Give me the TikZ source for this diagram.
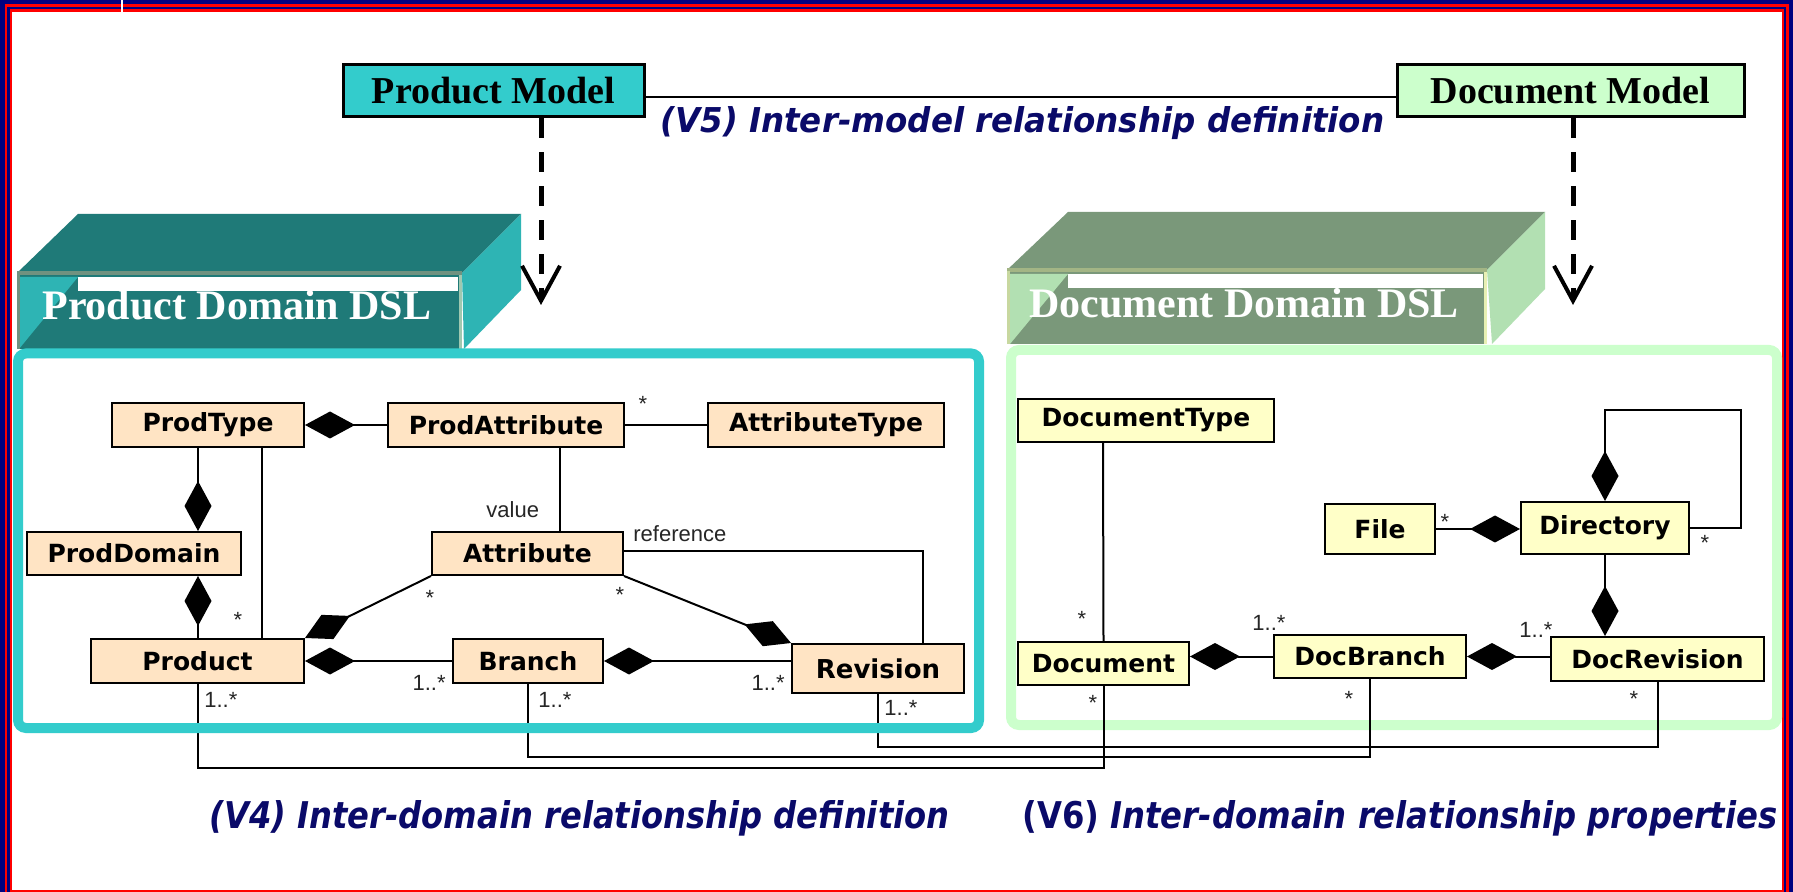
\documentclass[tikz,border=0pt]{standalone}
\usepackage{fontspec}
\usepackage{graphicx}
\usetikzlibrary{arrows.meta}

\newfontfamily\serifface{Liberation Serif}
\newfontfamily\clsface{DejaVu Sans}
\newfontfamily\lblface{Liberation Sans}
\newfontfamily\handface{DejaVu Sans}[BoldFont={DejaVu Sans Bold},ItalicFont={DejaVu Sans Oblique},BoldItalicFont={DejaVu Sans Bold Oblique}]

\definecolor{framenavy}{RGB}{0,0,128}
\definecolor{framered}{RGB}{255,0,0}
\definecolor{modelcyan}{RGB}{51,204,204}
\definecolor{modelgreen}{RGB}{204,255,204}
\definecolor{prodfill}{RGB}{255,228,196}
\definecolor{docfill}{RGB}{255,255,200}
\definecolor{tealdark}{RGB}{31,122,120}
\definecolor{teallight}{RGB}{46,180,180}
\definecolor{tealedge}{RGB}{112,146,128}
\definecolor{tealedgeR}{RGB}{160,200,176}
\definecolor{greendark}{RGB}{122,152,122}
\definecolor{greenlight}{RGB}{178,224,178}
\definecolor{greenedge}{RGB}{163,181,133}
\definecolor{greenedgeL}{RGB}{200,216,160}
\definecolor{greenedgeR}{RGB}{232,240,180}
\definecolor{handblue}{RGB}{10,10,105}

\tikzset{
  modelbox/.style={draw=black, line width=1.5pt, inner sep=0pt, minimum height=26pt,
    font=\serifface\bfseries\fontsize{19pt}{22pt}\selectfont},
  dsltitle/.style={text=white, inner sep=0pt, font=\serifface\bfseries\fontsize{21pt}{24pt}\selectfont},
  pcls/.style={draw=black, line width=1pt, fill=prodfill, inner sep=0pt, minimum height=22pt,
    font=\clsface\bfseries\fontsize{12.5pt}{14pt}\selectfont},
  dcls/.style={pcls, fill=docfill},
  assoc/.style={draw=black, line width=1pt},
  comp start/.style={{Diamond[length=25pt,width=13.5pt]}-},
  comp end/.style={-{Diamond[length=25pt,width=13.5pt]}},
  lbl/.style={inner sep=0pt, text=black!85, font=\lblface\fontsize{11pt}{13pt}\selectfont},
  modelarrow/.style={line width=2.5pt, dash pattern=on 10pt off 7pt,
    -{Straight Barb[length=17.5pt,width=19pt,line width=2pt]}},
  vtext/.style={inner sep=0pt, text=handblue, font=\handface\bfseries}
}

\begin{document}
\begin{tikzpicture}[x=0.5pt, y=-0.5pt]
\useasboundingbox (0,0) rectangle (1793,892);

% page frame
\fill[framenavy] (0,0) rectangle (1793,892);
\fill[framered] (4.5,4.5) rectangle (1788.5,892);
\fill[framenavy] (7,7) rectangle (1786,892);
\fill[framered] (9.5,9.5) rectangle (1783.5,892);
\fill[white] (12,12) rectangle (1782,890);
\draw[white, line width=1pt] (122,0) -- (122,12);

% model boxes and their relationship
\node[modelbox, fill=modelcyan, minimum width=150.5pt] (pmodel) at (493.5,91) {Product Model};
\node[modelbox, fill=modelgreen, minimum width=173.5pt] (dmodel) at (1570.5,91) {Document Model};
\draw[line width=1.25pt] ([yshift=-3pt]pmodel.east) -- ([yshift=-3pt]dmodel.west);
\node[vtext, anchor=base west] (v5) at (660,133)
  {\resizebox{362pt}{13pt}{\itshape (V5) Inter-model relationship definition}};

% product domain DSL block
\fill[tealdark] (17,273) -- (462,273) -- (521,214) -- (78,214) -- cycle;
\fill[teallight] (462,273) -- (521,214) -- (521,290) -- (464,349) -- cycle;
\fill[tealdark] (17,273) rectangle (462,349);
\fill[white] (78,277) rectangle (458,291);
\fill[teallight] (17,277) -- (78,277) -- (19,349) -- (17,349) -- cycle;
\draw[tealedge, line width=2pt] (17,273) -- (462,273);
\draw[tealedge, line width=1.5pt] (18,273) -- (18,349);
\draw[tealedgeR, line width=1.5pt] (460,275) -- (460,349);
\node[dsltitle, anchor=base west] (pdsltitle) at (42,320) {Product Domain DSL};

% document domain DSL block
\fill[greendark] (1007,270) -- (1487,270) -- (1545,212) -- (1068,212) -- cycle;
\fill[greenlight] (1487,270) -- (1545,212) -- (1545,289) -- (1492,344) -- cycle;
\fill[greendark] (1007,270) rectangle (1487,344);
\fill[white] (1068,274) rectangle (1483,288);
\fill[greenlight] (1007,274) -- (1068,274) -- (1010,344) -- (1007,344) -- cycle;
\draw[greenedge, line width=2pt] (1007,270) -- (1487,270);
\draw[greenedgeL, line width=1.5pt] (1008,271) -- (1008,344);
\draw[greenedgeR, line width=1.5pt] (1485,272) -- (1485,344);
\node[dsltitle, anchor=base west] (ddsltitle) at (1029,318) {Document Domain DSL};

% models mapped onto the DSLs
\coordinate (pdsl) at (541,305);
\coordinate (ddsl) at (1573,305);
\draw[modelarrow] ([xshift=23.75pt]pmodel.south) -- (pdsl);
\draw[modelarrow] ([xshift=1.25pt]dmodel.south) -- (ddsl);

% document domain frame
\draw[modelgreen, line width=5pt, rounded corners=4pt] (1011,350) rectangle (1777,725);

% product domain classes
\node[pcls, minimum width=96pt] (prodtype) at (208,425) {ProdType};
\node[pcls, minimum width=118pt] (prodattr) at (506,425) {ProdAttribute};
\node[pcls, minimum width=118pt] (attrtype) at (826,425) {AttributeType};
\node[pcls, minimum width=107pt, minimum height=21.5pt] (proddomain) at (134,553.5) {ProdDomain};
\node[pcls, minimum width=95.5pt, minimum height=21.5pt] (attribute) at (527.5,553.5) {Attribute};
\node[pcls, minimum width=106.5pt] (product) at (197.5,661) {Product};
\node[pcls, minimum width=75pt] (branch) at (528,661) {Branch};
\node[pcls, minimum width=86pt, minimum height=24.5pt, font=\clsface\bfseries\fontsize{13pt}{15pt}\selectfont] (revision) at (878,668.5) {Revision};

% document domain classes
\node[dcls, minimum width=128pt, minimum height=21.5pt] (doctype) at (1146,420.5) {DocumentType};
\node[dcls, minimum width=55pt, minimum height=25pt] (file) at (1380,529) {File};
\node[dcls, minimum width=84pt, minimum height=26pt] (directory) at (1605,528) {Directory};
\node[dcls, minimum width=85.5pt, minimum height=21.5pt] (document) at (1103.5,663.5) {Document};
\node[dcls, minimum width=96pt, minimum height=21.5pt] (docbranch) at (1370,656.5) {DocBranch};
\node[dcls, minimum width=106.5pt] (docrevision) at (1657.5,659) {DocRevision};

% product domain associations
\draw[assoc, comp start] (prodtype.east) -- (prodattr.west);
\draw[assoc] (prodattr.east) -- (attrtype.west);
\draw[assoc, comp end] ([xshift=-5pt]prodtype.south) -- ([xshift=32pt]proddomain.north);
\draw[assoc, comp start] ([xshift=32pt]proddomain.south) -- ([xshift=0.25pt]product.north);
\draw[assoc] ([xshift=27pt]prodtype.south) -- ([xshift=32.25pt]product.north);
\draw[assoc, comp start] (product.east) -- (branch.west);
\draw[assoc, comp end] (attribute.south west) -- (product.north east);
\draw[assoc, comp end] (attribute.south east) -- (revision.north west);
\draw[assoc] ([xshift=27pt]prodattr.south) -- ([xshift=16.25pt]attribute.north);
\draw[assoc] ([yshift=1pt]attribute.east) -| ([xshift=22.5pt]revision.north);
\draw[assoc, comp start] (branch.east) -- (branch.east -| revision.west);

% document domain associations
\draw[assoc] ([xshift=-21.5pt]doctype.south) -- (document.north);
\draw[assoc, comp start] (document.east |- docbranch.west) -- (docbranch.west);
\draw[assoc, comp start] (docbranch.east) -- (docbranch.east -| docrevision.west);
\draw[assoc, comp end] (file.east) -- (file.east -| directory.west);
\draw[assoc, comp end] (directory.south) -- (directory.south |- docrevision.north);
\coordinate (loop) at (1741,410);
\draw[assoc, comp end] (directory.east) -| (loop) -| (directory.north);

% inter-domain links
\coordinate (busP) at (0,768);
\coordinate (busB) at (0,757);
\coordinate (busR) at (0,747);
\draw[assoc] (product.south) |- (busP -| document.south) -- (document.south);
\draw[assoc] (branch.south) |- (busB -| docbranch.south) -- (docbranch.south);
\draw[assoc] (revision.south) |- (busR -| docrevision.south) -- (docrevision.south);

% product domain frame
\draw[modelcyan, line width=5pt, rounded corners=4pt] (18,353.5) rectangle (979,728);

% role names and multiplicities
\node[lbl, anchor=base] (mPA) at (643,412) {*};
\node[lbl, anchor=base] (mAsw) at (430,605) {*};
\node[lbl, anchor=base] (mAse) at (620,603) {*};
\node[lbl, anchor=base] (mPd) at (238,627) {*};
\node[lbl, anchor=base west] (rValue) at (486,518) {value};
\node[lbl, anchor=base west] (rRef) at (633,542) {reference};
\node[lbl, anchor=base east] (mBl) at (446,690) {1..*};
\node[lbl, anchor=base east] (mRl) at (785,690) {1..*};
\node[lbl, anchor=base west] (mPb) at (204,707) {1..*};
\node[lbl, anchor=base west] (mBb) at (538,707) {1..*};
\node[lbl, anchor=base west] (mRb) at (884,715) {1..*};
\node[lbl, anchor=base] (mDt) at (1082,626) {*};
\node[lbl, anchor=base] (mFile) at (1445,530) {*};
\node[lbl, anchor=base] (mLoop) at (1705,551) {*};
\node[lbl, anchor=base west] (mDBl) at (1252,630) {1..*};
\node[lbl, anchor=base west] (mDRl) at (1519,637) {1..*};
\node[lbl, anchor=base] (mDb) at (1093,710) {*};
\node[lbl, anchor=base] (mDBb) at (1349,706) {*};
\node[lbl, anchor=base] (mDRb) at (1634,706) {*};

% captions
\node[vtext, anchor=base west] (v4) at (209,828)
  {\resizebox{370pt}{14pt}{\itshape (V4) Inter-domain relationship definition}};
\node[vtext, anchor=base west] (v6) at (1022,828)
  {\resizebox{377.5pt}{14pt}{(V6) \itshape Inter-domain relationship properties}};
\end{tikzpicture}
\end{document}
